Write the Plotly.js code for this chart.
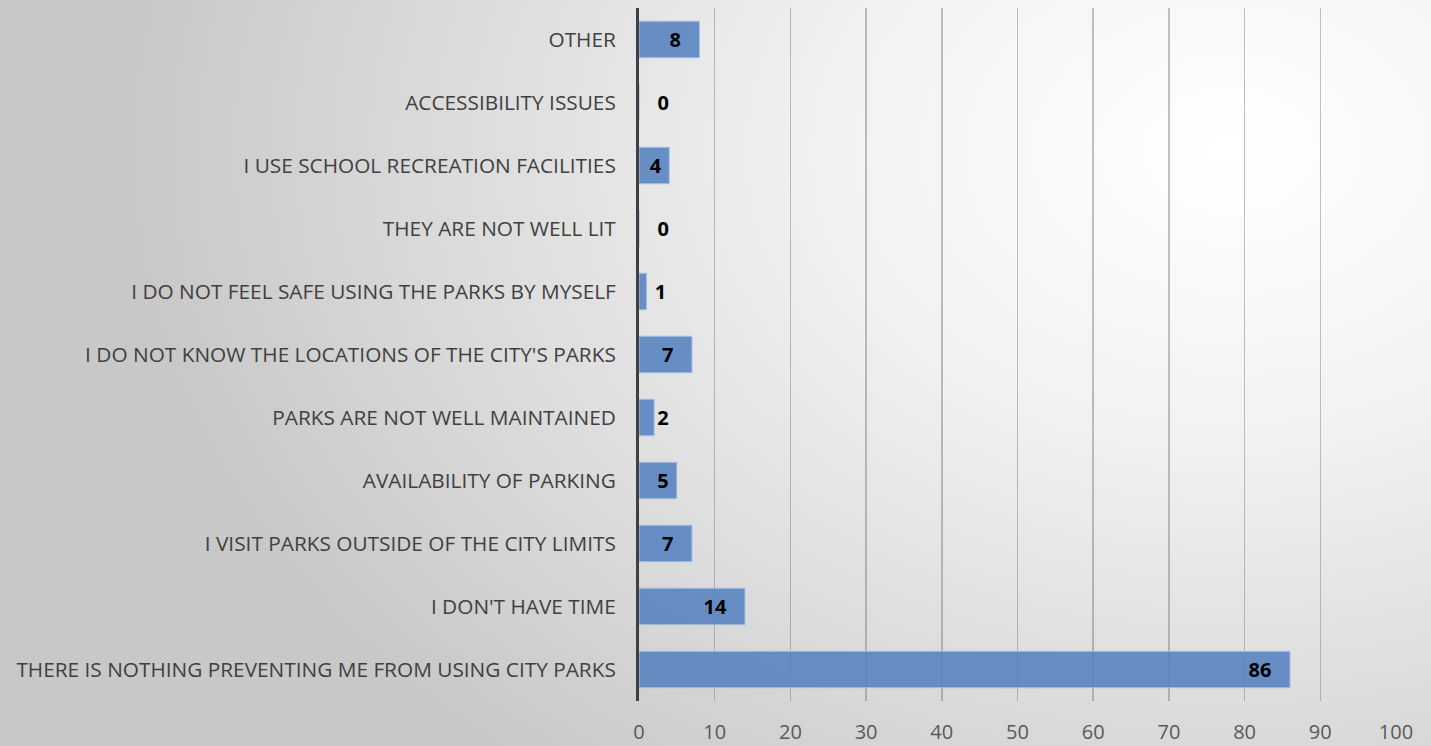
<!DOCTYPE html>
<html>
<head>
<meta charset="utf-8">
<script src="https://cdn.plot.ly/plotly-3.0.1.min.js"></script>
<style>
html,body{margin:0;padding:0;}
body{width:1431px;height:746px;overflow:hidden;
background:radial-gradient(ellipse 1100px 800px at 1230px 150px,#ffffff 0%,#f2f2f2 35%,#dcdcdc 70%,#c8c8c8 100%);}
#chart{width:1431px;height:746px;}
</style>
</head>
<body>
<div id="chart"></div>
<script>
const categories = [
  "THERE IS NOTHING PREVENTING ME FROM USING CITY PARKS",
  "I DON'T HAVE TIME",
  "I VISIT PARKS OUTSIDE OF THE CITY LIMITS",
  "AVAILABILITY OF PARKING",
  "PARKS ARE NOT WELL MAINTAINED",
  "I DO NOT KNOW THE LOCATIONS OF THE CITY'S PARKS",
  "I DO NOT FEEL SAFE USING THE PARKS BY MYSELF",
  "THEY ARE NOT WELL LIT",
  "I USE SCHOOL RECREATION FACILITIES",
  "ACCESSIBILITY ISSUES",
  "OTHER"
];
const values = [86, 14, 7, 5, 2, 7, 1, 0, 4, 0, 8];
const xTicks = [0,10,20,30,40,50,60,70,80,90,100];

const NB = '\u00a0';
const positions = values.map(v => v >= 4 ? 'inside' : 'outside');
const labels = values.map(v => {
  if (v >= 7) return String(v) + NB + NB + NB;
  if (v >= 4) return String(v) + NB;
  return NB.repeat(Math.max(0, 3 - 2 * v)) + String(v);
});

const valFont = {family: 'Open Sans, sans-serif', size: 20, color: '#000000', weight: 'bold'};

const trace = {
  type: 'bar',
  orientation: 'h',
  y: categories,
  x: values,
  text: labels,
  textposition: positions,
  insidetextanchor: 'end',
  textangle: 0,
  constraintext: 'none',
  cliponaxis: false,
  textfont: valFont,
  insidetextfont: valFont,
  outsidetextfont: valFont,
  marker: {color: 'rgba(84,130,192,0.88)', line: {color: '#a9c1e3', width: 1}},
  hoverinfo: 'x+y'
};

const layout = {
  width: 1431, height: 746,
  margin: {l: 639, r: 35, t: 7.5, b: 44.5},
  paper_bgcolor: 'rgba(0,0,0,0)',
  plot_bgcolor: 'rgba(0,0,0,0)',
  bargap: 0.42,
  showlegend: false,
  xaxis: {
    range: [0, 100],
    tickvals: xTicks,
    ticktext: xTicks.map(String),
    showgrid: true,
    gridcolor: 'rgba(120,120,120,0.45)',
    gridwidth: 1.5,
    zeroline: false,
    showline: false,
    ticks: '',
    tickfont: {family: 'Open Sans, sans-serif', size: 20, color: '#595959'},
    ticklabelstandoff: 17,
    fixedrange: true
  },
  yaxis: {
    type: 'category',
    categoryorder: 'array',
    categoryarray: categories,
    showline: true,
    linecolor: '#404040',
    linewidth: 3,
    showgrid: false,
    ticks: '',
    ticklabelstandoff: 16,
    tickfont: {family: 'Open Sans, sans-serif', size: 20.8, color: '#404040'},
    fixedrange: true
  }
};

Plotly.newPlot('chart', [trace], layout, {displayModeBar: false, staticPlot: true});
</script>
</body>
</html>
